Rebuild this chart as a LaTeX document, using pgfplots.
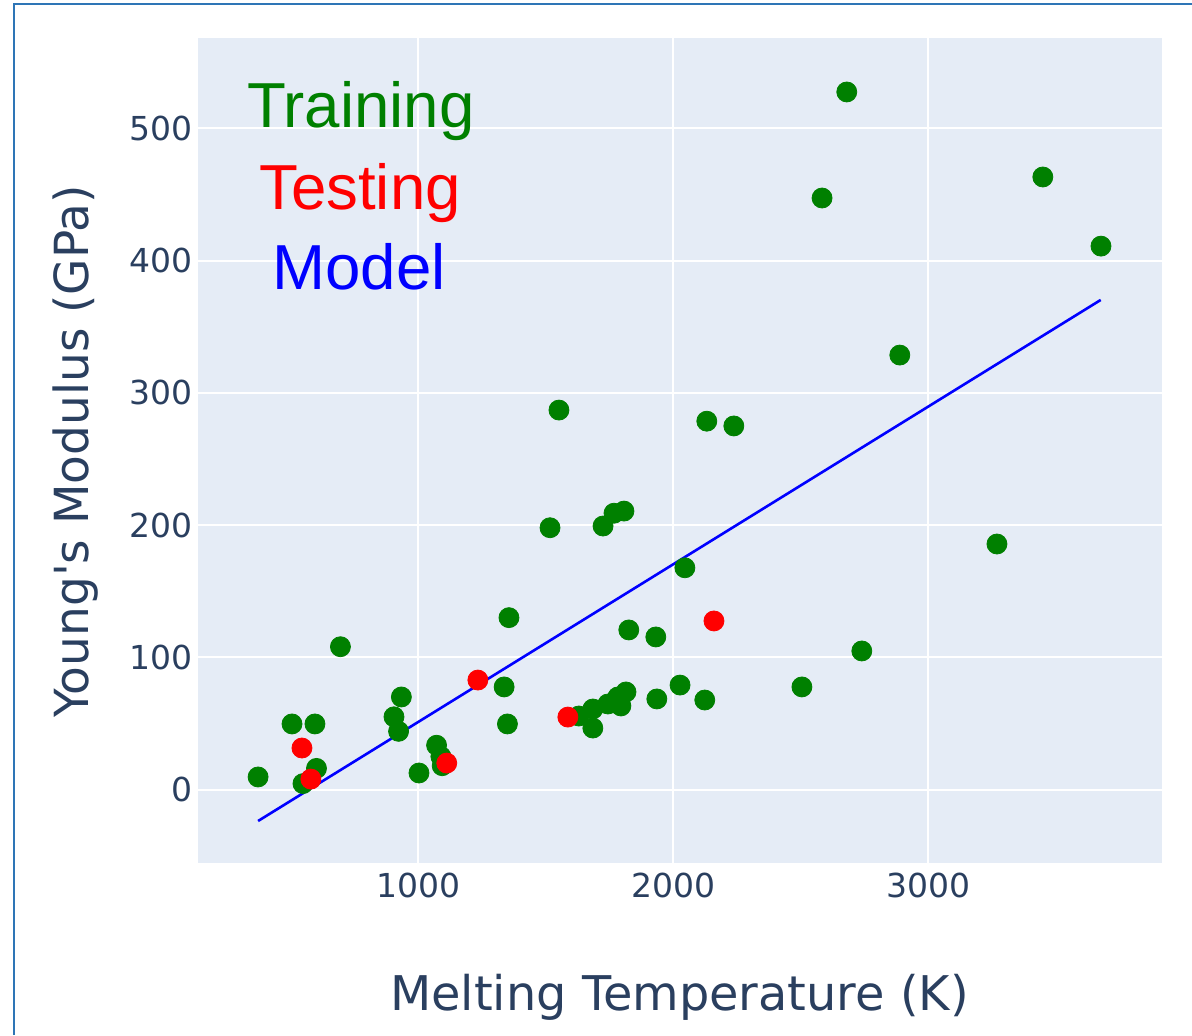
\documentclass[border=0pt]{standalone}
\usepackage{fontspec}
\setmainfont{DejaVu Sans}
\newfontfamily\arialfont{Liberation Sans}
\usepackage{pgfplots}
\pgfplotsset{compat=1.18}
\definecolor{bgc}{HTML}{E5ECF6}
\definecolor{axtext}{HTML}{2A3F5F}
\definecolor{pgreen}{HTML}{008000}
\definecolor{pred}{HTML}{FF0000}
\definecolor{pblue}{HTML}{0000FF}
\definecolor{framec}{HTML}{2E75B6}
\begin{document}
\begin{tikzpicture}
\useasboundingbox (0,0) rectangle (596pt,517.5pt);
\draw[framec, line width=1pt] (7pt,0pt) -- (7pt,515.5pt) -- (596pt,515.5pt);
\begin{axis}[
  at={(99pt,86.25pt)}, anchor=south west,
  scale only axis, width=481.75pt, height=412.1pt,
  xmin=135.3, xmax=3914.5, ymin=-55.2, ymax=568.2,
  xtick={1000,2000,3000}, ytick={0,100,200,300,400,500},
  axis background/.style={fill=bgc},
  axis line style={draw=none},
  major tick length=0pt,
  grid=major, major grid style={white, line width=1pt},
  /pgf/number format/assume math mode=true,
  /pgf/number format/1000 sep={},
  ticklabel style={font=\fontsize{16.5}{20}\selectfont, text=axtext},
  xticklabel style={anchor=north, inner sep=0pt, yshift=-5.25pt},
  yticklabel style={anchor=east, inner sep=0pt, xshift=-2.5pt},
  clip=false,
]
\addplot[only marks, mark=*, mark size=5pt, color=pgreen, mark options={fill=pgreen, draw=pgreen}] coordinates {
(371,9.5) (504,49.6) (594,49.6) (547,4.5) (600,16) (694,108)
(904,55) (933,70) (922,44) (1002,12.5) (1071,33.5) (1088,25) (1093,18)
(1336,77.6) (1355,130) (1349,49.6) (1516,198) (1551,287)
(1629,55.6) (1684,60.9) (1684,46.5) (1743,64.7) (1782,70) (1794,63.2) (1814,73.8)
(1724,199.3) (1767,209) (1806,210.6) (2045,167.7) (1825,120.7) (1931,115.4)
(1935,68.5) (2026,79) (2123,67.7) (2131,278.6) (2237,275) (2504,77.6)
(2583,447.4) (2680,527.6) (2739,104.8) (2888,328.6) (3269,185.7) (3449,463.3) (3677,411)
};
\addplot[only marks, mark=*, mark size=5pt, color=pred, mark options={fill=pred, draw=pred}] coordinates {
(543,31.4) (578,7.9) (1111,20) (1233,82.8) (1586,54.8) (2159,127.5)
};
\addplot[pblue, line width=1.3pt, no marks] coordinates {(371,-23.8) (3676,370.3)};
\end{axis}
\node[anchor=base, text=pgreen, font=\arialfont\fontsize{31.8}{36}\selectfont, inner sep=0pt] at (180.5pt,453.75pt) {Training};
\node[anchor=base, text=pred, font=\arialfont\fontsize{31.8}{36}\selectfont, inner sep=0pt] at (180pt,412.5pt) {Testing};
\node[anchor=base, text=pblue, font=\arialfont\fontsize{31.8}{36}\selectfont, inner sep=0pt] at (179.5pt,372.5pt) {Model};
\node[text=axtext, font=\fontsize{23.9}{28}\selectfont, inner sep=0pt] at (339.75pt,18.75pt) {Melting Temperature (K)};
\node[text=axtext, font=\fontsize{23.5}{28}\selectfont, inner sep=0pt, rotate=90] at (38pt,291.75pt) {Young\textquotesingle s Modulus (GPa)};
\end{tikzpicture}
\end{document}
